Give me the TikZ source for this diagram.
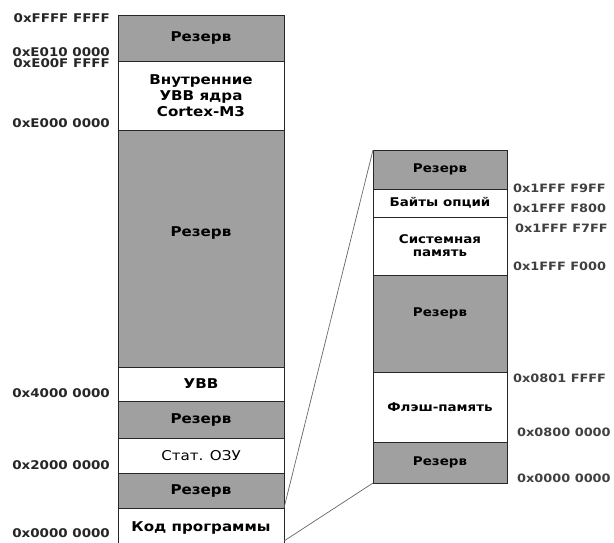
\documentclass[tikz,border=0pt]{standalone}
\usepackage{fontspec}
\setmainfont{DejaVu Sans}
\newfontfamily\blockfont[FakeStretch=1.12]{DejaVu Sans}
\usetikzlibrary{positioning}
\definecolor{rezgray}{RGB}{160,160,160}
\tikzset{
  blk/.style={draw=black!85, line width=0.8pt, inner sep=0pt, outer sep=0pt,
    align=center, font=\blockfont\bfseries\fontsize{13.5}{16}\selectfont},
  rez/.style={blk, fill=rezgray},
  mem/.style={blk, fill=white},
  smallblk/.style={font=\blockfont\bfseries\fontsize{12}{13}\selectfont},
  addrL/.style={anchor=east, inner sep=0pt, font=\blockfont\bfseries\fontsize{12}{13}\selectfont, text=black!85},
  addrR/.style={anchor=west, inner sep=0pt, font=\blockfont\bfseries\fontsize{11.5}{13}\selectfont, text=black!75},
  zoomline/.style={draw=black!60, line width=0.7pt}
}
\begin{document}
\begin{tikzpicture}[x=1pt, y=-1pt]
    \clip (0,0) rectangle (614,542);
    % left column: full address space
    \node[rez, minimum width=166pt, minimum height=46pt] (lrez1) at (201,38) {Резерв};
    \node[mem, minimum width=166pt, minimum height=69pt] (lcore) at (201,95.5)
      {Внутренние\\УВВ ядра\\Cortex-M3};
    \node[rez, minimum width=166pt, minimum height=237pt,
      label={[yshift=16pt, font=\blockfont\bfseries\fontsize{13.5}{16}\selectfont]center:Резерв}]
      (lrez2) at (201,248.5) {};
    \node[mem, minimum width=166pt, minimum height=34pt] (luvv) at (201,384) {УВВ};
    \node[rez, minimum width=166pt, minimum height=37pt] (lrez3) at (201,419.5) {Резерв};
    \node[mem, minimum width=166pt, minimum height=35pt, font=\blockfont\fontsize{13.5}{16}\selectfont]
      (lozu) at (201,455.5) {Стат. ОЗУ};
    \node[rez, minimum width=166pt, minimum height=35pt] (lrez4) at (201,490.5) {Резерв};
    \node[mem, minimum width=166pt, minimum height=40pt] (lkod) at (201,528) {Код программы};

    % left addresses
    \node[addrL] (aFFFF) at (110,18) {0xFFFF FFFF};
    \node[addrL] (aE010) at (110,52) {0xE010 0000};
    \node[addrL] (aE00F) at (110,63) {0xE00F FFFF};
    \node[addrL] (aE000) at (110,123) {0xE000 0000};
    \node[addrL] (a4000) at (110,393) {0x4000 0000};
    \node[addrL] (a2000) at (110,465) {0x2000 0000};
    \node[addrL] (a0000) at (110,533) {0x0000 0000};

    % right column: code region in detail
    \node[rez, smallblk, minimum width=134pt, minimum height=39pt] (rrez1) at (440,169.5) {Резерв};
    \node[mem, smallblk, minimum width=134pt, minimum height=28pt] (ropt) at (440,203) {Байты опций};
    \node[mem, smallblk, minimum width=134pt, minimum height=58pt] (rsys) at (440,246) {Системная\\память};
    \node[rez, smallblk, minimum width=134pt, minimum height=97pt,
      label={[yshift=10pt, smallblk]center:Резерв}] (rrez2) at (440,323.5) {};
    \node[mem, smallblk, minimum width=134pt, minimum height=70pt] (rflash) at (440,407) {Флэш-память};
    \node[rez, smallblk, minimum width=134pt, minimum height=41pt] (rrez3) at (440,462.5) {Резерв};

    % right addresses
    \node[addrR] (bF9FF) at (513,188) {0x1FFF F9FF};
    \node[addrR] (bF800) at (513,208) {0x1FFF F800};
    \node[addrR] (bF7FF) at (515,228) {0x1FFF F7FF};
    \node[addrR] (bF000) at (513,266) {0x1FFF F000};
    \node[addrR] (b0801) at (513,378) {0x0801 FFFF};
    \node[addrR] (b0800) at (517,432) {0x0800 0000};
    \node[addrR] (b0000) at (517,478) {0x0000 0000};

    % zoom lines
    \draw[zoomline] (lrez4.south east) -- (rrez1.north west);
    \draw[zoomline] (lkod.east |- 0,541) -- (rrez3.south west);
  \end{tikzpicture}
\end{document}
